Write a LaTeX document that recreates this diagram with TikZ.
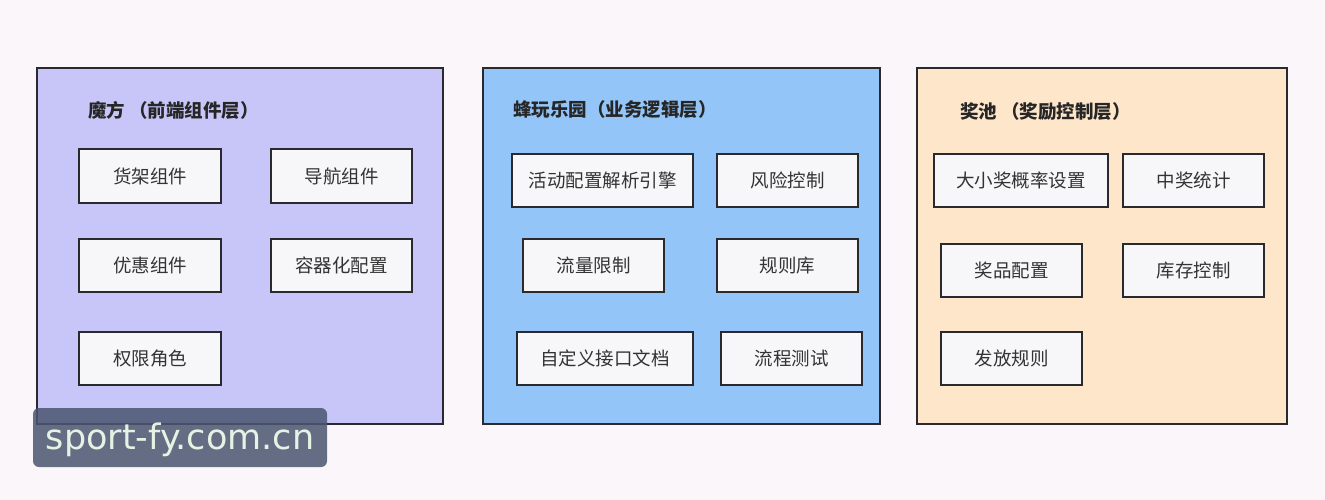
\documentclass[tikz,border=0pt]{standalone}
\usepackage{fontspec}
\newfontfamily\cjk{Noto Sans CJK SC}
\newfontfamily\wmfont{DejaVu Sans}
\definecolor{bgc}{HTML}{FBF6FA}
\definecolor{pone}{HTML}{C8C6F8}
\definecolor{ptwo}{HTML}{93C5F9}
\definecolor{pthree}{HTML}{FDE6CA}
\definecolor{boxfill}{HTML}{F7F6F8}
\definecolor{textgray}{HTML}{333333}
\definecolor{edge}{HTML}{2A2A2E}
\definecolor{wmbg}{HTML}{4A5670}
\definecolor{wmtext}{HTML}{E6F2E4}
\begin{document}
\begin{tikzpicture}[x=1pt,y=-1pt,
  panel/.style={draw=edge,line width=2pt},
  item/.style={draw=edge,line width=2pt,fill=boxfill,inner sep=0pt,
    font=\cjk\fontsize{18.5}{18.5}\selectfont,text=textgray,minimum height=53pt},
  ttl/.style={anchor=west,inner sep=0pt,font=\cjk\bfseries\fontsize{18.5}{18.5}\selectfont,text=black!85}]
\useasboundingbox (0,0) rectangle (1325,500);
\fill[bgc] (0,0) rectangle (1325,500);
% panels
\draw[panel,fill=pone] (37,68) rectangle (443,424);
\draw[panel,fill=ptwo] (483,68) rectangle (880,424);
\draw[panel,fill=pthree] (917,68) rectangle (1287,424);
% titles
\node[ttl] (t1) at (88,110) {魔方 （前端组件层）};
\node[ttl] (t2) at (513,110) {蜂玩乐园（业务逻辑层）};
\node[ttl] (t3) at (960,112) {奖池 （奖励控制层）};
% panel 1
\node[item,minimum width=142pt,minimum height=54pt] (a1) at (150,176) {货架组件};
\node[item,minimum width=141pt,minimum height=54pt] (a2) at (341.5,176) {导航组件};
\node[item,minimum width=142pt] (a3) at (150,265.5) {优惠组件};
\node[item,minimum width=141pt] (a4) at (341.5,265.5) {容器化配置};
\node[item,minimum width=142pt] (a5) at (150,358.5) {权限角色};
% panel 2
\node[item,minimum width=181pt] (b1) at (602.5,180.5) {活动配置解析引擎};
\node[item,minimum width=141pt] (b2) at (787.5,180.5) {风险控制};
\node[item,minimum width=141pt] (b3) at (593.5,265.5) {流量限制};
\node[item,minimum width=141pt] (b4) at (787.5,265.5) {规则库};
\node[item,minimum width=176pt] (b5) at (605,358.5) {自定义接口文档};
\node[item,minimum width=141pt] (b6) at (791.5,358.5) {流程测试};
% panel 3
\node[item,minimum width=174pt] (c1) at (1021,180.5) {大小奖概率设置};
\node[item,minimum width=141pt] (c2) at (1193.5,180.5) {中奖统计};
\node[item,minimum width=141pt] (c3) at (1011.5,270.5) {奖品配置};
\node[item,minimum width=141pt] (c4) at (1193.5,270.5) {库存控制};
\node[item,minimum width=141pt] (c5) at (1011.5,358.5) {发放规则};
% watermark
\fill[wmbg,fill opacity=0.85,rounded corners=6pt] (33,408) rectangle (327,467);
\node[inner sep=0pt,text=wmtext,font=\wmfont\fontsize{35}{35}\selectfont] (wm) at (180,440) {sport-fy.com.cn};
\end{tikzpicture}
\end{document}
